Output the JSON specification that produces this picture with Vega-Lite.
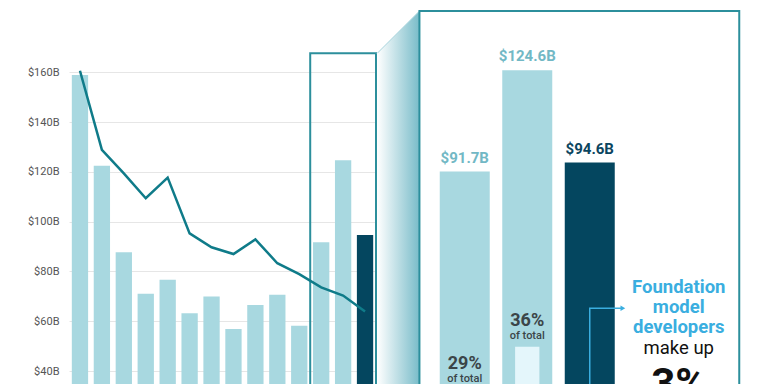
{
  "$schema": "https://vega.github.io/schema/vega-lite/v6.json",
  "padding": {"left": 27, "top": 0, "right": 0, "bottom": 0},
  "spacing": 0,
  "bounds": "flush",
  "background": "white",
  "config": {"view": {"stroke": null}, "font": "Roboto"},
  "datasets": {
    "funding": [
      {"idx": 1, "value": 158.9, "trend": 160.6},
      {"idx": 2, "value": 122.4, "trend": 128.8},
      {"idx": 3, "value": 87.7, "trend": 119.4},
      {"idx": 4, "value": 71.0, "trend": 109.4},
      {"idx": 5, "value": 76.7, "trend": 117.7},
      {"idx": 6, "value": 63.2, "trend": 95.3},
      {"idx": 7, "value": 69.9, "trend": 89.7},
      {"idx": 8, "value": 56.9, "trend": 87.0},
      {"idx": 9, "value": 66.5, "trend": 92.9},
      {"idx": 10, "value": 70.6, "trend": 83.3},
      {"idx": 11, "value": 58.2, "trend": 78.9},
      {"idx": 12, "value": 91.7, "trend": 73.6},
      {"idx": 13, "value": 124.6, "trend": 70.3},
      {"idx": 14, "value": 94.6, "trend": 63.9}
    ],
    "zoomed": [
      {"idx": 12, "value": 91.7, "label": "$91.7B", "inner": 21.0, "pct": "29%"},
      {"idx": 13, "value": 124.6, "label": "$124.6B", "inner": 34.8, "pct": "36%"},
      {"idx": 14, "value": 94.6, "label": "$94.6B", "inner": null, "pct": null}
    ],
    "smallbox": [
      {"o": 1, "x": 11.5, "y": 34.8},
      {"o": 2, "x": 11.5, "y": 167.6},
      {"o": 3, "x": 14.5, "y": 167.6},
      {"o": 4, "x": 14.5, "y": 34.8}
    ],
    "bigbox": [
      {"o": 1, "x": 11.275, "y": 22.7},
      {"o": 2, "x": 11.275, "y": 143.8},
      {"o": 3, "x": 16.392, "y": 143.8},
      {"o": 4, "x": 16.392, "y": 22.7}
    ],
    "connector": [
      {"x": 10.6, "top": 130.1, "bottom": 22.7},
      {"x": 11.275, "top": 143.8, "bottom": 22.7}
    ],
    "arrow": [
      {"o": 1, "x": 14, "y": 15},
      {"o": 2, "x": 14, "y": 47.3},
      {"o": 3, "x": 14.5, "y": 47.3}
    ],
    "arrowhead": [{"x": 14.53, "y": 47.3}],
    "callout": [
      {"x": 15.424, "y": 52.4, "text": "Foundation\nmodel\ndevelopers", "kind": "blue"},
      {"x": 15.424, "y": 32.5, "text": "make up", "kind": "plain"},
      {"x": 15.424, "y": 18.0, "text": "3%", "kind": "big"}
    ]
  },
  "hconcat": [
    {
      "width": 307,
      "height": 384,
      "layer": [
        {
          "data": {"name": "funding"},
          "mark": {"type": "bar", "width": 16.3, "clip": true},
          "encoding": {
            "x": {"field": "idx", "type": "quantitative", "scale": {"domain": [0.5, 14.5], "nice": false, "zero": false, "padding": 0}, "axis": null},
            "y": {
              "field": "value", "type": "quantitative", "title": null,
              "scale": {"domain": [34.8, 189], "nice": false, "zero": false, "padding": 0},
              "axis": {
                "values": [40, 60, 80, 100, 120, 140, 160],
                "labelExpr": "'$' + datum.value + 'B'",
                "domain": false, "ticks": false, "labelPadding": 10,
                "labelFont": "Roboto", "labelFontSize": 11, "labelColor": "#555555",
                "gridColor": "#e6e6e6", "gridWidth": 1, "title": null
              }
            },
            "color": {"condition": {"test": "datum.idx === 14", "value": "#04465f"}, "value": "#a8d8e0"}
          }
        },
        {
          "data": {"name": "smallbox"},
          "mark": {"type": "line", "color": "#2c8f9c", "strokeWidth": 2},
          "encoding": {
            "x": {"field": "x", "type": "quantitative"},
            "y": {"field": "y", "type": "quantitative", "title": null},
            "order": {"field": "o"}
          }
        },
        {
          "data": {"name": "funding"},
          "mark": {"type": "line", "color": "#0f7b89", "strokeWidth": 2.5},
          "encoding": {
            "x": {"field": "idx", "type": "quantitative"},
            "y": {"field": "trend", "type": "quantitative", "title": null}
          }
        }
      ]
    },
    {
      "width": 391,
      "height": 384,
      "layer": [
        {
          "data": {"name": "connector"},
          "mark": {
            "type": "area", "clip": true,
            "fill": {"gradient": "linear", "x1": 0, "x2": 1, "y1": 0, "y2": 0,
              "stops": [{"offset": 0, "color": "#ffffff"}, {"offset": 1, "color": "#79bcc9"}]}
          },
          "encoding": {
            "x": {"field": "x", "type": "quantitative", "scale": {"domain": [10.58, 16.836], "nice": false, "zero": false, "padding": 0}, "axis": null},
            "y": {"field": "top", "type": "quantitative", "scale": {"domain": [22.7, 147.4], "nice": false, "zero": false, "padding": 0}, "axis": null},
            "y2": {"field": "bottom"}
          }
        },
        {
          "data": {"name": "connector"},
          "mark": {"type": "line", "color": "#a9d5dd", "strokeWidth": 1},
          "encoding": {
            "x": {"field": "x", "type": "quantitative"},
            "y": {"field": "top", "type": "quantitative"}
          }
        },
        {
          "data": {"name": "bigbox"},
          "mark": {"type": "line", "color": "#2c8f9c", "strokeWidth": 2, "clip": true},
          "encoding": {
            "x": {"field": "x", "type": "quantitative"},
            "y": {"field": "y", "type": "quantitative"},
            "order": {"field": "o"}
          }
        },
        {
          "data": {"name": "zoomed"},
          "mark": {"type": "bar", "width": 50, "clip": true},
          "encoding": {
            "x": {"field": "idx", "type": "quantitative"},
            "y": {"field": "value", "type": "quantitative"},
            "color": {"condition": {"test": "datum.idx === 14", "value": "#04465f"}, "value": "#a8d8e0"}
          }
        },
        {
          "data": {"name": "zoomed"},
          "transform": [{"filter": "datum.inner != null"}],
          "mark": {"type": "bar", "width": 24.3, "clip": true, "color": "#e4f6fb"},
          "encoding": {
            "x": {"field": "idx", "type": "quantitative"},
            "y": {"field": "inner", "type": "quantitative"}
          }
        },
        {
          "data": {"name": "zoomed"},
          "mark": {"type": "text", "dy": -9, "baseline": "alphabetic", "align": "center", "font": "Roboto", "fontSize": 15, "fontWeight": "bold"},
          "encoding": {
            "x": {"field": "idx", "type": "quantitative"},
            "y": {"field": "value", "type": "quantitative"},
            "text": {"field": "label"},
            "color": {"condition": {"test": "datum.idx === 14", "value": "#0b4560"}, "value": "#72b8c5"}
          }
        },
        {
          "data": {"name": "zoomed"},
          "transform": [{"filter": "datum.pct != null"}],
          "mark": {"type": "text", "dy": -20.7, "baseline": "alphabetic", "align": "center", "font": "Roboto", "fontSize": 18, "fontWeight": "bold", "color": "#3b4548", "clip": true},
          "encoding": {
            "x": {"field": "idx", "type": "quantitative"},
            "y": {"field": "inner", "type": "quantitative"},
            "text": {"field": "pct"}
          }
        },
        {
          "data": {"name": "zoomed"},
          "transform": [{"filter": "datum.pct != null"}],
          "mark": {"type": "text", "dy": -7.7, "baseline": "alphabetic", "align": "center", "font": "Roboto", "fontSize": 11, "fontWeight": 500, "color": "#3b4548", "clip": true, "text": "of total"},
          "encoding": {
            "x": {"field": "idx", "type": "quantitative"},
            "y": {"field": "inner", "type": "quantitative"}
          }
        },
        {
          "data": {"name": "arrow"},
          "mark": {"type": "line", "color": "#3aaee0", "strokeWidth": 1.5, "clip": true},
          "encoding": {
            "x": {"field": "x", "type": "quantitative"},
            "y": {"field": "y", "type": "quantitative"},
            "order": {"field": "o"}
          }
        },
        {
          "data": {"name": "arrowhead"},
          "mark": {"type": "point", "shape": "triangle-right", "filled": true, "size": 30, "color": "#3aaee0", "opacity": 1},
          "encoding": {
            "x": {"field": "x", "type": "quantitative"},
            "y": {"field": "y", "type": "quantitative"}
          }
        },
        {
          "data": {"name": "callout"},
          "transform": [{"filter": "datum.kind === 'blue'"}],
          "mark": {"type": "text", "lineBreak": "\n", "lineHeight": 20.3, "baseline": "alphabetic", "align": "center", "font": "Roboto", "fontSize": 18.5, "fontWeight": "bold", "color": "#3aaee0"},
          "encoding": {
            "x": {"field": "x", "type": "quantitative"},
            "y": {"field": "y", "type": "quantitative"},
            "text": {"field": "text"}
          }
        },
        {
          "data": {"name": "callout"},
          "transform": [{"filter": "datum.kind === 'plain'"}],
          "mark": {"type": "text", "baseline": "alphabetic", "align": "center", "font": "Roboto", "fontSize": 18.5, "color": "#111111"},
          "encoding": {
            "x": {"field": "x", "type": "quantitative"},
            "y": {"field": "y", "type": "quantitative"},
            "text": {"field": "text"}
          }
        },
        {
          "data": {"name": "callout"},
          "transform": [{"filter": "datum.kind === 'big'"}],
          "mark": {"type": "text", "baseline": "alphabetic", "align": "center", "font": "Roboto", "fontSize": 42, "fontWeight": "bold", "color": "#111111", "clip": true},
          "encoding": {
            "x": {"field": "x", "type": "quantitative"},
            "y": {"field": "y", "type": "quantitative"},
            "text": {"field": "text"}
          }
        }
      ]
    }
  ]
}
